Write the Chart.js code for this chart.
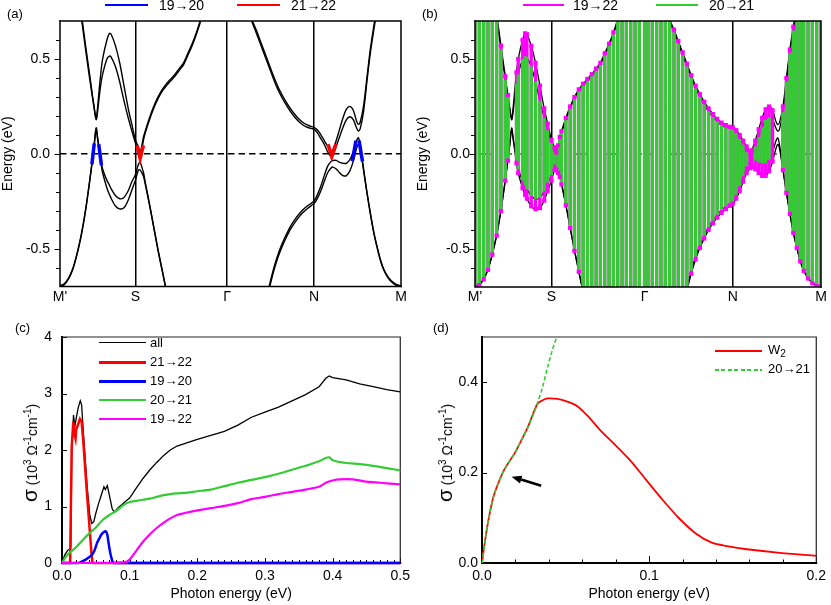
<!DOCTYPE html>
<html>
<head>
<meta charset="utf-8">
<script src="https://cdn.jsdelivr.net/npm/chart.js@4.4.0/dist/chart.umd.min.js"></script>
<style>
  body { margin: 0; background: #fff; width: 831px; height: 605px; overflow: hidden; position: relative;
         font-family: "Liberation Sans", Arial, Helvetica, sans-serif; color: #000; }
  canvas { position: absolute; }
  .t { position: absolute; font-size: 14px; line-height: 14px; white-space: nowrap; }
  .s { position: absolute; font-size: 13px; line-height: 14px; white-space: nowrap; }
  .ln { position: absolute; height: 2px; }
  .sig { position: absolute; font-size: 14px; line-height: 20px; white-space: nowrap;
         transform: translate(-50%, -50%) rotate(-90deg); }
  sup { font-size: 10px; vertical-align: 6px; line-height: 0; }
  sub { font-size: 10px; vertical-align: -3px; line-height: 0; }
</style>
</head>
<body>
<canvas id="ca" width="415" height="305" style="left:0;top:0"></canvas>
<canvas id="cb" width="416" height="305" style="left:415px;top:0"></canvas>
<canvas id="cc" width="415" height="300" style="left:0;top:305px"></canvas>
<canvas id="cd" width="416" height="300" style="left:415px;top:305px"></canvas>

<div class="s" style="left:7px;top:7px">(a)</div>
<div class="s" style="left:422px;top:7px">(b)</div>
<div class="s" style="left:15px;top:321px">(c)</div>
<div class="s" style="left:433px;top:321px">(d)</div>

<!-- legends (a), (b) -->
<div class="ln" style="left:105px;top:4px;width:43px;background:#0000ff"></div>
<div class="t" style="left:159px;top:-2px">19→20</div>
<div class="ln" style="left:237px;top:4px;width:43px;background:#ff0000"></div>
<div class="t" style="left:291px;top:-2px">21→22</div>
<div class="ln" style="left:523px;top:4px;width:41px;background:#ff00ff"></div>
<div class="t" style="left:573px;top:-2px">19→22</div>
<div class="ln" style="left:656px;top:4px;width:42px;background:#33cc33"></div>
<div class="t" style="left:709px;top:-2px">20→21</div>

<!-- legend (c) -->
<div class="ln" style="left:99px;top:342px;width:47px;height:1.3px;background:#000"></div>
<div class="s" style="left:150px;top:336px">all</div>
<div class="ln" style="left:99px;top:361px;width:47px;height:2.5px;background:#ff0000"></div>
<div class="s" style="left:150px;top:355px">21→22</div>
<div class="ln" style="left:99px;top:380px;width:47px;height:2.5px;background:#0000ff"></div>
<div class="s" style="left:150px;top:374px">19→20</div>
<div class="ln" style="left:99px;top:399px;width:47px;height:2.2px;background:#33cc33"></div>
<div class="s" style="left:150px;top:393px">20→21</div>
<div class="ln" style="left:99px;top:418px;width:47px;height:2.2px;background:#ff00ff"></div>
<div class="s" style="left:150px;top:412px">19→22</div>

<!-- legend (d) -->
<div class="ln" style="left:715px;top:350px;width:47px;height:1.8px;background:#ff0000"></div>
<div class="s" style="left:768px;top:343px">W<sub>2</sub></div>
<div class="ln" style="left:715px;top:369px;width:47px;height:1.6px;background:repeating-linear-gradient(90deg,#33cc33 0 4px,transparent 4px 6.5px)"></div>
<div class="s" style="left:768px;top:362px">20→21</div>

<div class="sig" style="left:31px;top:453px"><span style="font-size:21px">σ</span> (10<sup>3</sup> Ω<sup>-1</sup>cm<sup>-1</sup>)</div>
<div class="sig" style="left:446px;top:453px"><span style="font-size:21px">σ</span> (10<sup>3</sup> Ω<sup>-1</sup>cm<sup>-1</sup>)</div>

<script>
// ---- band structure, panels (a) and (b) ----
const kPath = [0, 0.0125, 0.025, 0.0375, 0.05, 0.0625, 0.075, 0.0875, 0.095, 0.1,
  0.106, 0.11, 0.115, 0.12, 0.125, 0.1375, 0.145, 0.15, 0.1625, 0.175,
  0.1875, 0.2, 0.21, 0.221, 0.23, 0.235, 0.24, 0.245, 0.25, 0.2625,
  0.275, 0.2875, 0.3, 0.3125, 0.325, 0.3375, 0.35, 0.3625, 0.375, 0.3875,
  0.4, 0.4125, 0.425, 0.4375, 0.45, 0.4625, 0.475, 0.49, 0.5, 0.5125,
  0.525, 0.5375, 0.55, 0.5625, 0.575, 0.5875, 0.6, 0.6125, 0.625, 0.6375,
  0.65, 0.6625, 0.675, 0.6875, 0.7, 0.7125, 0.725, 0.7375, 0.745, 0.755,
  0.765, 0.775, 0.785, 0.795, 0.8, 0.81, 0.82, 0.83, 0.84, 0.85,
  0.86, 0.87, 0.875, 0.88, 0.89, 0.9, 0.91, 0.92, 0.93, 0.94,
  0.95, 0.9625, 0.975, 0.9875, 1];
const band19 = [-0.70, -0.69, -0.66, -0.61, -0.53, -0.43, -0.30, -0.14, -0.035, 0.04,
  0.13, 0.08, 0.015, -0.05, -0.10, -0.18, -0.215, -0.235, -0.275, -0.29,
  -0.285, -0.245, -0.195, -0.14, -0.085, -0.085, -0.10, -0.12, -0.16, -0.27,
  -0.39, -0.51, -0.62, -0.73, -0.84, -0.94, -1.03, -1.10, -1.17, -1.22,
  -1.26, -1.29, -1.31, -1.33, -1.34, -1.35, -1.355, -1.36, -1.35, -1.32,
  -1.28, -1.23, -1.17, -1.10, -1.02, -0.93, -0.82, -0.72, -0.63, -0.555,
  -0.495, -0.445, -0.40, -0.365, -0.335, -0.31, -0.29, -0.272, -0.262, -0.235,
  -0.195, -0.145, -0.10, -0.075, -0.07, -0.08, -0.10, -0.115, -0.115, -0.09,
  -0.04, 0.03, 0.05, 0.03, -0.085, -0.205, -0.315, -0.415, -0.495, -0.565,
  -0.615, -0.655, -0.68, -0.695, -0.70];
const band20 = [-0.695, -0.685, -0.655, -0.605, -0.525, -0.425, -0.295, -0.135, -0.03, 0.045,
  0.137, 0.09, 0.03, -0.03, -0.08, -0.14, -0.165, -0.185, -0.22, -0.237,
  -0.23, -0.195, -0.15, -0.11, -0.055, -0.045, -0.07, -0.10, -0.15, -0.265,
  -0.385, -0.505, -0.615, -0.725, -0.835, -0.935, -1.025, -1.095, -1.165, -1.215,
  -1.255, -1.285, -1.305, -1.325, -1.335, -1.345, -1.35, -1.355, -1.345, -1.315,
  -1.275, -1.225, -1.165, -1.095, -1.015, -0.925, -0.81, -0.705, -0.615, -0.54,
  -0.48, -0.43, -0.385, -0.35, -0.32, -0.295, -0.275, -0.26, -0.25, -0.215,
  -0.17, -0.115, -0.065, -0.04, -0.035, -0.035, -0.045, -0.05, -0.05, -0.03,
  0.01, 0.07, 0.085, 0.05, -0.075, -0.20, -0.31, -0.41, -0.49, -0.56,
  -0.61, -0.65, -0.675, -0.69, -0.695];
const band21 = [1.40, 1.28, 1.15, 1.01, 0.87, 0.72, 0.55, 0.39, 0.30, 0.24,
  0.18, 0.22, 0.30, 0.37, 0.42, 0.50, 0.515, 0.51, 0.46, 0.38,
  0.28, 0.19, 0.125, 0.058, 0.01, -0.025, 0.02, 0.075, 0.11, 0.18,
  0.24, 0.29, 0.33, 0.36, 0.385, 0.41, 0.44, 0.47, 0.52, 0.57,
  0.63, 0.70, 0.78, 0.87, 0.95, 1.02, 1.07, 1.10, 1.09, 1.04,
  0.97, 0.89, 0.80, 0.70, 0.64, 0.58, 0.52, 0.46, 0.40, 0.345,
  0.30, 0.26, 0.225, 0.195, 0.17, 0.152, 0.14, 0.133, 0.13, 0.11,
  0.08, 0.05, 0.01, -0.015, -0.01, 0.04, 0.09, 0.14, 0.18, 0.195,
  0.18, 0.135, 0.12, 0.13, 0.22, 0.38, 0.53, 0.65, 0.76, 0.86,
  0.95, 1.05, 1.14, 1.20, 1.23];
const band22 = [1.42, 1.30, 1.17, 1.03, 0.89, 0.74, 0.57, 0.41, 0.31, 0.25,
  0.185, 0.24, 0.34, 0.43, 0.50, 0.60, 0.635, 0.63, 0.57, 0.48,
  0.36, 0.24, 0.16, 0.075, 0.035, 0.008, 0.045, 0.09, 0.12, 0.19,
  0.25, 0.30, 0.34, 0.37, 0.395, 0.42, 0.45, 0.48, 0.53, 0.58,
  0.64, 0.71, 0.79, 0.88, 0.96, 1.03, 1.08, 1.11, 1.10, 1.05,
  0.98, 0.90, 0.81, 0.71, 0.655, 0.595, 0.535, 0.475, 0.415, 0.36,
  0.315, 0.275, 0.24, 0.21, 0.185, 0.165, 0.152, 0.143, 0.14, 0.125,
  0.10, 0.07, 0.04, 0.015, 0.02, 0.07, 0.13, 0.19, 0.235, 0.25,
  0.23, 0.17, 0.155, 0.165, 0.25, 0.40, 0.55, 0.67, 0.78, 0.88,
  0.97, 1.07, 1.16, 1.22, 1.25];

const kTickPos = [0, 0.221, 0.49, 0.745, 1];
const kTickLabels = ["M'", 'S', 'Γ', 'N', 'M'];
const eMajor = [-0.5, 0, 0.5];
const eMinor = [-0.6, -0.4, -0.3, -0.2, -0.1, 0.1, 0.2, 0.3, 0.4, 0.6];
const fermiK = [0, 1];
const fermiE = [0, 0];

// highlighted transition spots in (a), [k, E]
const blueMarks = [
  [[0.0935, -0.055], [0.1005, 0.055]],
  [[0.1135, 0.05], [0.1215, -0.06]],
  [[0.857, -0.04], [0.868, 0.07]],
  [[0.877, 0.07], [0.887, -0.04]]
];
const redMarks = [
  [[0.2255, 0.045], [0.235, -0.025], [0.2445, 0.045]],
  [[0.786, 0.05], [0.797, -0.015], [0.809, 0.05]]
];

// ---- panel (c) ----
const cAllE = [0, 0.004, 0.008, 0.011, 0.013, 0.0145, 0.017, 0.019, 0.021, 0.024, 0.027, 0.029, 0.031, 0.034, 0.037, 0.041, 0.044, 0.047, 0.05, 0.054, 0.058, 0.062, 0.064, 0.067, 0.07, 0.074, 0.077, 0.083, 0.09, 0.095, 0.1, 0.11, 0.12, 0.13, 0.14, 0.15, 0.16, 0.17, 0.18, 0.2, 0.22, 0.24, 0.26, 0.28, 0.3, 0.32, 0.34, 0.36, 0.38, 0.39, 0.395, 0.4, 0.42, 0.44, 0.46, 0.48, 0.5];
const cAllS = [0, 0.14, 0.22, 0.25, 0.28, 2.0, 2.62, 2.42, 2.56, 2.75, 2.87, 2.8, 2.42, 1.9, 1.38, 0.86, 0.7, 0.73, 0.88, 1.05, 1.2, 1.35, 1.3, 1.37, 1.2, 0.97, 0.9, 0.98, 1.05, 1.1, 1.15, 1.33, 1.5, 1.65, 1.78, 1.9, 2.0, 2.07, 2.11, 2.19, 2.26, 2.33, 2.44, 2.58, 2.67, 2.76, 2.87, 2.98, 3.12, 3.27, 3.31, 3.28, 3.24, 3.17, 3.12, 3.07, 3.03];
const c2122E = [0, 0.012, 0.0143, 0.0167, 0.018, 0.02, 0.021, 0.024, 0.0265, 0.029, 0.0315, 0.034, 0.0365, 0.039, 0.0415, 0.0435, 0.045, 0.5];
const c2122S = [0, 0, 2.05, 2.5, 2.3, 2.2, 2.36, 2.46, 2.55, 2.5, 2.15, 1.72, 1.3, 0.9, 0.5, 0.18, 0, 0];
const c1920E = [0, 0.024, 0.03, 0.035, 0.04, 0.044, 0.048, 0.052, 0.055, 0.058, 0.062, 0.065, 0.067, 0.069, 0.0715, 0.0745, 0.076, 0.5];
const c1920S = [0, 0, 0.03, 0.06, 0.1, 0.14, 0.22, 0.36, 0.43, 0.5, 0.55, 0.56, 0.5, 0.34, 0.17, 0.03, 0, 0];
const c2021E = [0, 0.005, 0.01, 0.02, 0.03, 0.04, 0.05, 0.06, 0.07, 0.08, 0.09, 0.1, 0.11, 0.12, 0.13, 0.14, 0.15, 0.16, 0.18, 0.2, 0.22, 0.24, 0.26, 0.28, 0.3, 0.32, 0.34, 0.36, 0.38, 0.39, 0.395, 0.4, 0.42, 0.44, 0.46, 0.48, 0.5];
const c2021S = [0, 0.1, 0.17, 0.27, 0.4, 0.52, 0.63, 0.76, 0.85, 0.92, 1.02, 1.08, 1.1, 1.12, 1.14, 1.17, 1.2, 1.22, 1.24, 1.27, 1.3, 1.36, 1.42, 1.47, 1.52, 1.58, 1.65, 1.72, 1.8, 1.86, 1.87, 1.82, 1.77, 1.75, 1.72, 1.68, 1.64];
const c1922E = [0, 0.08, 0.09, 0.095, 0.1, 0.11, 0.12, 0.13, 0.14, 0.15, 0.16, 0.17, 0.18, 0.2, 0.22, 0.24, 0.26, 0.28, 0.3, 0.32, 0.34, 0.36, 0.38, 0.39, 0.4, 0.41, 0.43, 0.45, 0.47, 0.5];
const c1922S = [0, 0, 0.01, 0.02, 0.06, 0.22, 0.38, 0.51, 0.62, 0.71, 0.79, 0.85, 0.88, 0.93, 0.97, 1.01, 1.06, 1.13, 1.17, 1.22, 1.26, 1.3, 1.35, 1.42, 1.46, 1.48, 1.48, 1.44, 1.42, 1.39];
const cXMajor = [0, 0.1, 0.2, 0.3, 0.4, 0.5];
const cYMajor = [0, 1, 2, 3, 4];

// ---- panel (d) ----
const dW2E = [0, 0.0019, 0.0039, 0.0069, 0.0098, 0.0127, 0.0157, 0.0196, 0.0236, 0.0275, 0.0314, 0.0334, 0.0363, 0.0393, 0.0452, 0.051, 0.057, 0.0628, 0.0707, 0.0786, 0.0884, 0.0982, 0.108, 0.1179, 0.1277, 0.1375, 0.1474, 0.1572, 0.1768, 0.2];
const dW2S = [0, 0.051, 0.096, 0.147, 0.177, 0.202, 0.221, 0.243, 0.272, 0.301, 0.338, 0.353, 0.36, 0.364, 0.363, 0.357, 0.347, 0.327, 0.294, 0.265, 0.228, 0.184, 0.14, 0.099, 0.066, 0.045, 0.037, 0.031, 0.023, 0.016];
const d2021E = [0, 0.0019, 0.0039, 0.0069, 0.0098, 0.0127, 0.0157, 0.0196, 0.0236, 0.0275, 0.0314, 0.0334, 0.0363, 0.0393, 0.042, 0.0452];
const d2021S = [0, 0.051, 0.096, 0.147, 0.177, 0.202, 0.221, 0.243, 0.272, 0.301, 0.335, 0.356, 0.39, 0.434, 0.47, 0.505];
const dXMajor = [0, 0.1, 0.2];
const dYMajor = [0, 0.2, 0.4];
const arrowTail = [0.0354, 0.171];
const arrowHead = [0.0177, 0.191];

const RED = '#ff0000', BLUE = '#0000ff', GREEN = '#33cc33', MAGENTA = '#ff00ff';

Chart.defaults.font.family = '"Liberation Sans", Arial, Helvetica, sans-serif';
Chart.defaults.color = '#000';

const pts = (xs, ys) => xs.map((x, i) => ({ x: x, y: ys[i] }));
const fixTicks = vals => s => { s.ticks = vals.map(v => ({ value: v })); };
function steps(from, to, step) {
  const out = [];
  for (let i = 0; from + i * step <= to + 1e-9; i++) out.push(+(from + i * step).toFixed(4));
  return out;
}

// frame, hand-made tick marks and the arrow, drawn through the chart's scales
function makeDecor(cfg) {
  function draw(chart) {
    const { ctx, chartArea: a, scales } = chart;
    ctx.save();
    ctx.strokeStyle = '#000';
    (cfg.ticks || []).forEach(t => {
      const s = scales[t.axis];
      ctx.lineWidth = t.width;
      ctx.beginPath();
      t.values.forEach(v => {
        const p = Math.round(s.getPixelForValue(v)) + 0.5;
        if (t.axis === 'x') { ctx.moveTo(p, a.bottom); ctx.lineTo(p, a.bottom - t.len); }
        else { const d = t.out ? -t.len : t.len; ctx.moveTo(a.left, p); ctx.lineTo(a.left + d, p); }
      });
      ctx.stroke();
    });
    const b = cfg.box;
    ctx.lineCap = 'square';
    ctx.lineWidth = b.thin; ctx.strokeStyle = b.thinColor;
    ctx.beginPath(); ctx.moveTo(a.left, a.top); ctx.lineTo(a.right, a.top); ctx.lineTo(a.right, a.bottom); ctx.stroke();
    ctx.lineWidth = b.thick; ctx.strokeStyle = '#000';
    ctx.beginPath(); ctx.moveTo(a.left, a.top); ctx.lineTo(a.left, a.bottom); ctx.lineTo(a.right, a.bottom); ctx.stroke();
    if (cfg.arrow) {
      const x0 = scales.x.getPixelForValue(cfg.arrow.from[0]), y0 = scales.y.getPixelForValue(cfg.arrow.from[1]);
      const x1 = scales.x.getPixelForValue(cfg.arrow.to[0]), y1 = scales.y.getPixelForValue(cfg.arrow.to[1]);
      const ang = Math.atan2(y1 - y0, x1 - x0), L = 10, W = 4;
      const bx = x1 - L * Math.cos(ang), by = y1 - L * Math.sin(ang);
      ctx.lineCap = 'butt';
      ctx.lineWidth = 2.6;
      ctx.beginPath(); ctx.moveTo(x0, y0); ctx.lineTo(bx, by); ctx.stroke();
      ctx.fillStyle = '#000';
      ctx.beginPath();
      ctx.moveTo(x1, y1);
      ctx.lineTo(bx + W * Math.sin(ang), by - W * Math.cos(ang));
      ctx.lineTo(bx - W * Math.sin(ang), by + W * Math.cos(ang));
      ctx.closePath(); ctx.fill();
    }
    ctx.restore();
  }
  return {
    id: 'decor',
    beforeDatasetsDraw(chart) { if (cfg.under) draw(chart); },
    afterDatasetsDraw(chart) { if (!cfg.under) draw(chart); }
  };
}

function bandOptions(tickPad, padRight) {
  return {
    responsive: false, animation: false, events: [],
    layout: { padding: { left: 0, right: padRight, top: 21, bottom: 0 } },
    plugins: { legend: { display: false }, tooltip: { enabled: false } },
    scales: {
      x: {
        type: 'linear', min: 0, max: 1,
        afterBuildTicks: fixTicks(kTickPos), afterFit: s => { s.height = 18; },
        ticks: { autoSkip: false, maxRotation: 0, padding: 2, font: { size: 14 }, callback: (v, i) => kTickLabels[i] },
        grid: { drawTicks: false, lineWidth: 1.5,
          color: c => (c.tick && c.tick.value > 0 && c.tick.value < 1) ? '#000' : 'rgba(0,0,0,0)' },
        border: { display: false }
      },
      y: {
        type: 'linear', min: -0.7, max: 0.7,
        afterBuildTicks: fixTicks(eMajor), afterFit: s => { s.width = 60; },
        ticks: { padding: tickPad, font: { size: 14 }, callback: v => v.toFixed(1) },
        grid: { display: false, drawTicks: false }, border: { display: false },
        title: { display: true, text: 'Energy (eV)', font: { size: 14 }, padding: 0 }
      }
    }
  };
}
const bandTicks = [
  { axis: 'y', values: eMinor, len: 4, out: true, width: 1 },
  { axis: 'y', values: eMajor, len: 5.5, out: true, width: 1 }
];

function bandLines(width, order) {
  return [band19, band20, band21, band22].map(b => ({
    type: 'line', data: pts(kPath, b), borderColor: '#000', borderWidth: width,
    pointRadius: 0, tension: 0.3, fill: false, order: order
  }));
}
function markSet(m, color) {
  return { type: 'line', data: m.map(p => ({ x: p[0], y: p[1] })), borderColor: color, borderWidth: 3.5,
    pointRadius: 0, tension: 0, order: 1 };
}

// ---- (a) ----
new Chart(document.getElementById('ca'), {
  type: 'line',
  data: { datasets: [
    { data: pts(fermiK, fermiE), borderColor: '#000', borderWidth: 1.4, borderDash: [6.5, 4], pointRadius: 0, order: 20 },
    ...bandLines(1.4, 10),
    ...blueMarks.map(m => markSet(m, BLUE)),
    ...redMarks.map(m => markSet(m, RED))
  ] },
  options: bandOptions(10, 14),
  plugins: [makeDecor({ ticks: bandTicks, box: { thin: 1.5, thinColor: '#000', thick: 1.5 } })]
});

// ---- (b) : vertical transition lines where the lower band is filled and the upper one empty ----
const greenSeg = [], magSeg = [], magDots = [];
kPath.forEach((k, i) => {
  if (band20[i] < 0 && band21[i] > 0) {
    greenSeg.push({ x: k, y: band20[i] }, { x: k, y: band21[i] }, { x: k, y: null });
  }
  if (band19[i] < 0 && band22[i] > 0) {
    magSeg.push({ x: k, y: band19[i] }, { x: k, y: band22[i] }, { x: k, y: null });
    magDots.push({ x: k, y: band19[i] }, { x: k, y: band22[i] });
  }
});

new Chart(document.getElementById('cb'), {
  type: 'line',
  data: { datasets: [
    { data: pts(fermiK, fermiE), borderColor: '#000', borderWidth: 1, borderDash: [2, 3], pointRadius: 0, order: 30 },
    ...bandLines(1.3, 20),
    { data: magSeg, borderColor: MAGENTA, borderWidth: 3.3, pointRadius: 0, tension: 0, spanGaps: false, clip: 0, order: 12 },
    { data: greenSeg, borderColor: GREEN, borderWidth: 3.3, pointRadius: 0, tension: 0, spanGaps: false, clip: 0, order: 11 },
    { data: magDots, showLine: false, pointStyle: 'rect', pointRadius: 3, pointBackgroundColor: MAGENTA,
      pointBorderWidth: 0, clip: 0, order: 10 }
  ] },
  options: bandOptions(5, 10),
  plugins: [makeDecor({ ticks: bandTicks, box: { thin: 1.5, thinColor: '#000', thick: 1.5 } })]
});

// ---- (c) ----
function curve(xs, ys, color, width, tension, order, extra) {
  return Object.assign({ data: pts(xs, ys), borderColor: color, borderWidth: width, pointRadius: 0,
    tension: tension, fill: false, clip: 4, order: order }, extra || {});
}
function sigmaOptions(xMax, yMax, xMaj, yMaj, yWidth, yPad, xFmt, yFmt) {
  return {
    responsive: false, animation: false, events: [],
    layout: { padding: { left: 0, right: yWidth === 62 ? 14 : 10, top: 32, bottom: 0 } },
    plugins: { legend: { display: false }, tooltip: { enabled: false } },
    scales: {
      x: {
        type: 'linear', min: 0, max: xMax,
        afterBuildTicks: fixTicks(xMaj), afterFit: s => { s.height = 42; },
        ticks: { autoSkip: false, maxRotation: 0, padding: 5, font: { size: 14 }, callback: xFmt },
        grid: { display: false, drawTicks: false }, border: { display: false },
        title: { display: true, text: 'Photon energy (eV)', font: { size: 14 }, padding: { top: 0, bottom: 2 } }
      },
      y: {
        type: 'linear', min: 0, max: yMax,
        afterBuildTicks: fixTicks(yMaj), afterFit: s => { s.width = yWidth; },
        ticks: { padding: yPad, font: { size: 14 }, callback: yFmt },
        grid: { display: false, drawTicks: false }, border: { display: false }
      }
    }
  };
}

new Chart(document.getElementById('cc'), {
  type: 'line',
  data: { datasets: [
    curve(cAllE, cAllS, '#000', 1.3, 0, 5),
    curve(c2122E, c2122S, RED, 2.5, 0, 4),
    curve(c1920E, c1920S, BLUE, 2.5, 0.2, 3),
    curve(c2021E, c2021S, GREEN, 2.2, 0.3, 2),
    curve(c1922E, c1922S, MAGENTA, 2.2, 0.3, 1)
  ] },
  options: sigmaOptions(0.5, 4, cXMajor, cYMajor, 62, 10, v => v.toFixed(1), v => String(v)),
  plugins: [makeDecor({
    under: true,
    ticks: [
      { axis: 'x', values: steps(0, 0.5, 0.01), len: 3, width: 1 },
      { axis: 'x', values: cXMajor, len: 5, width: 1 },
      { axis: 'y', values: cYMajor, len: 5, width: 1 }
    ],
    box: { thin: 1.2, thinColor: '#222', thick: 2 }
  })]
});

// ---- (d) ----
new Chart(document.getElementById('cd'), {
  type: 'line',
  data: { datasets: [
    curve(dW2E, dW2S, RED, 1.8, 0.3, 2),
    curve(d2021E, d2021S, GREEN, 1.6, 0.3, 1, { borderDash: [4, 2.5], clip: 0 })
  ] },
  options: sigmaOptions(0.2, 0.5, dXMajor, dYMajor, 67, 4, v => v.toFixed(1), v => v.toFixed(1)),
  plugins: [makeDecor({
    under: true,
    ticks: [
      { axis: 'x', values: steps(0, 0.2, 0.02), len: 3.5, width: 1 },
      { axis: 'x', values: dXMajor, len: 7, width: 1 },
      { axis: 'y', values: dYMajor, len: 5, width: 1 }
    ],
    box: { thin: 1.2, thinColor: '#222', thick: 2 },
    arrow: { from: arrowTail, to: arrowHead }
  })]
});
</script>
</body>
</html>
